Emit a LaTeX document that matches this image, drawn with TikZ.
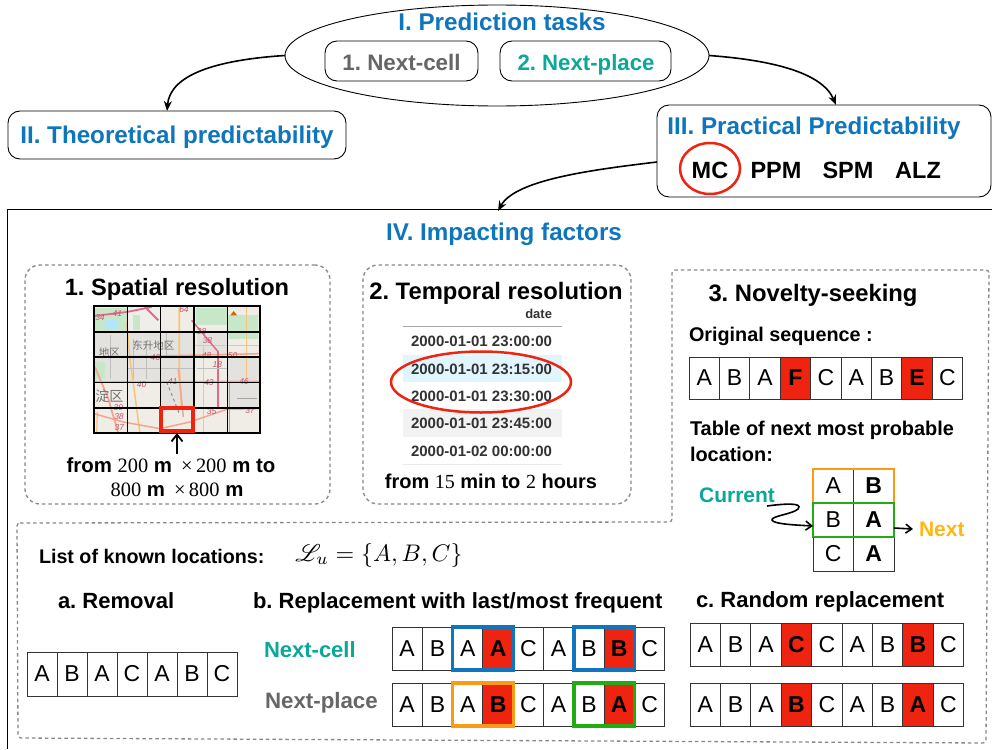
\documentclass[tikz,border=0pt]{standalone}
\usepackage{fontspec}
\usepackage{mathrsfs}
\setmainfont{Liberation Sans}
\newfontfamily\numfont{Liberation Serif}
\newfontfamily\cjkfont{Noto Sans CJK SC}
\usetikzlibrary{arrows.meta,shapes.geometric}
\definecolor{headblue}{HTML}{0F75BC}
\definecolor{tealc}{HTML}{0AA898}
\definecolor{grayc}{HTML}{666666}
\definecolor{redc}{HTML}{EE2410}
\definecolor{orangec}{HTML}{FB9A14}
\definecolor{greenc}{HTML}{22AC14}
\definecolor{yellowc}{HTML}{FDB813}
\definecolor{hlblue}{HTML}{0F75BC}
\definecolor{dashc}{HTML}{888888}
\definecolor{mapbg}{HTML}{F0EDE6}
\definecolor{mapsalmon}{HTML}{F3A590}
\definecolor{mappink}{HTML}{E4688C}
\definecolor{maporange}{HTML}{F6C57A}
\definecolor{mapgreen}{HTML}{C6E8C8}
\definecolor{mapgray}{HTML}{E4E2DE}
\definecolor{maptext}{HTML}{C9546E}
\newcommand{\fsb}[1]{\fontsize{#1}{#1}\selectfont\bfseries\frenchspacing}
\newcommand{\fsr}[1]{\fontsize{#1}{#1}\selectfont}
\newcommand{\cellrow}[6]{%
  \foreach \c/\k [count=\i] in {#6} {
    \node[style/.expanded=\k, minimum width=#4pt, minimum height=#5pt] (#1-\i) at ({#2+(\i-0.5)*#4},{#3+#5/2}) {\c};
  }%
}
\tikzset{
  lab/.style={inner sep=0pt, outer sep=0pt, anchor=mid, yshift=-5.5pt},
  labw/.style={inner sep=0pt, outer sep=0pt, anchor=mid west, yshift=-5.5pt},
  roundbox/.style={draw=black, line width=0.9pt, rounded corners=12pt, inner sep=0pt, outer sep=0pt},
  dashbox/.style={draw=dashc, line width=1.3pt, dash pattern=on 3.5pt off 3pt},
  basecell/.style={draw=black!80, line width=1pt, inner sep=0pt, outer sep=0pt, fill=white, font=\fsr{23}},
  seqcell/.style={basecell},
  boldcell/.style={basecell, font=\fsb{23}},
  redcell/.style={basecell, fill=redc, font=\fsb{23}},
  hl/.style={line width=3.4pt, line join=miter},
  flow/.style={line width=1.6pt, -{Stealth[length=10pt,width=8pt]}},
  barb/.style={line width=1.8pt, -{Straight Barb[length=7pt,width=11pt]}},
  smallbarb/.style={line width=1.6pt, -{Straight Barb[length=6pt,width=9pt]}},
  redring/.style={draw=redc, line width=2.5pt, inner sep=0pt, outer sep=0pt, ellipse},
  daterow/.style={inner sep=0pt, outer sep=0pt, anchor=mid east, yshift=-3pt, text=black!80, font=\fsb{15}},
  mapnum/.style={inner sep=0pt, text=maptext, font=\fontsize{8.5}{9}\selectfont\itshape},
  mapcjk/.style={inner sep=0pt, text=black!55, font=\cjkfont\fontsize{10.5}{12}\selectfont},
}
\begin{document}
\begin{tikzpicture}[x=1pt,y=-1pt]
\useasboundingbox[fill=white] (0,0) rectangle (992,749);

% top ellipse
\node[draw=black, line width=0.9pt, ellipse, minimum width=424pt, minimum height=101pt, inner sep=0pt, outer sep=0pt] (tasks) at (497,55.5) {};
\node[lab, text=headblue, font=\fsb{24.2}] (taskstitle) at (502,22) {I. Prediction tasks};
\node[roundbox, minimum width=153pt, minimum height=40pt] (cellbox) at (401.5,61) {};
\node[roundbox, minimum width=171pt, minimum height=40pt] (placebox) at (585.5,61) {};
\node[lab, text=grayc, font=\fsb{22.4}] (celltxt) at (401.5,62) {1. Next-cell};
\node[lab, text=tealc, font=\fsb{22.2}] (placetxt) at (586,62) {2. Next-place};

% II
\node[roundbox, minimum width=338pt, minimum height=48pt] (theory) at (177,135) {};
\node[lab, text=headblue, font=\fsb{24.2}] (theorytxt) at (177,135) {II. Theoretical predictability};

% III
\node[roundbox, minimum width=334pt, minimum height=92pt] (practical) at (824,151) {};
\node[lab, text=headblue, font=\fsb{24.2}] (practxt) at (814,126) {III. Practical Predictability};
\node[lab, font=\fsb{23.5}] (mc) at (710,170) {MC};
\node[redring, minimum width=60pt, minimum height=51pt] (mcring) at (710,168.5) {};
\node[lab, font=\fsb{23.5}] (ppm) at (776,170) {PPM};
\node[lab, font=\fsb{23.5}] (spm) at (848,170) {SPM};
\node[lab, font=\fsb{23.5}] (alz) at (918,170) {ALZ};

% IV frame
\coordinate (frameNE) at (992,209);
\coordinate (frameNW) at (7,209);
\coordinate (frameSW) at (7,749);
\coordinate (frametop) at (498,211);
\draw[line width=1pt] (frameNE) -- (frameNW) -- (frameSW);
\node[lab, text=headblue, font=\fsb{24.2}] (factors) at (504,232) {IV. Impacting factors};

% connectors
\draw[flow] (tasks.west) .. controls (215,60) and (170,75) .. ([xshift=-10pt]theory.north);
\draw[flow] (tasks.east) .. controls (770,60) and (822,72) .. ([xshift=12pt]practical.north);
\draw[flow] ([yshift=-11pt]practical.west) .. controls (590,170) and (515,180) .. (frametop);

% box 1
\node[dashbox, rounded corners=15pt, minimum width=305pt, minimum height=239pt, inner sep=0pt] (spatial) at (177.5,384.5) {};
\node[lab, font=\fsb{23.6}] (spatialtitle) at (177,287) {1. Spatial resolution};

% map, in zoom units
\begin{scope}[shift={(90,302)}, x=0.3333pt, y=-0.3333pt]
  \clip (12,15) rectangle (510,395);
  \fill[mapbg] (12,15) rectangle (510,395);
  \fill[mapgray] (115,90) rectangle (310,240);
  \fill[mapgray] (15,90) rectangle (110,240);
  \fill[mapgray] (320,90) rectangle (410,165);
  \fill[mapgray] (212,240) rectangle (310,320);
  \fill[mapgray] (410,165) rectangle (510,318);
  \fill[white!40!mapgray] (115,15) rectangle (210,85);
  \fill[mapgreen] (15,18) rectangle (110,88);
  \fill[mapgreen] (318,18) rectangle (410,70);
  \fill[mapgreen] (415,40) rectangle (505,110);
  \fill[mapgreen] (15,180) rectangle (45,232);
  \fill[mapgreen] (130,40) rectangle (150,85);
  \fill[cyan!30] (45,55) rectangle (85,85);
  \fill[orange!80!black] (431,27) -- (441,40) -- (421,40) -- cycle;
  \draw[maporange, line width=1.8pt] (268,15) -- (268,200) -- (275,320);
  \draw[maporange, line width=1.5pt] (110,60) -- (120,170) -- (150,395);
  \draw[maporange, line width=1.5pt] (315,130) -- (510,130);
  \draw[maporange, line width=1.5pt] (340,130) -- (340,395);
  \draw[maporange, line width=1.5pt] (470,15) -- (470,240);
  \draw[maporange, line width=1.2pt] (20,395) -- (22,330);
  \draw[mapsalmon, line width=1.5pt] (15,240) -- (510,238);
  \draw[mapsalmon, line width=1.5pt] (12,165) -- (200,162) -- (510,155);
  \draw[mapsalmon, line width=1.8pt] (15,195) -- (55,290) -- (85,395);
  \draw[mapsalmon, line width=1.5pt] (12,335) -- (100,360) -- (210,380) -- (300,360) -- (410,322) -- (510,320);
  \draw[mapsalmon, line width=1.5pt] (265,200) -- (280,345);
  \draw[mappink, line width=1.8pt] (12,42) -- (110,30) -- (185,15);
  \draw[mappink, line width=1.8pt] (165,15) -- (205,55);
  \draw[mappink, line width=1.8pt] (385,150) -- (385,320);
  \draw[mappink, line width=1.5pt] (305,55) -- (385,150);
  \draw[black!45, line width=1pt, dashed] (230,240) -- (270,340);
  \draw[black!35, line width=1pt] (420,240) -- (420,395) (440,290) -- (500,290);
  \draw[black!25, line width=0.8pt] (130,110) -- (130,230) (170,120) -- (170,230) (230,90) -- (230,160) (60,100) -- (60,230) (115,200) -- (310,200) (320,200) -- (410,200);
  \node[mapcjk] (mapa) at (190,130) {东升地区};
  \node[mapcjk] (mapb) at (58,150) {地区};
  \node[mapcjk, font=\cjkfont\fontsize{14}{15}\selectfont] (mapc) at (58,283) {淀区};
  \node[mapnum] (m1) at (82,35) {41};
  \node[mapnum] (m2) at (30,48) {34};
  \node[mapnum] (m3) at (282,22) {64};
  \node[mapnum] (m4) at (335,90) {38};
  \node[mapnum] (m5) at (352,116) {38};
  \node[mapnum] (m6) at (382,188) {18};
  \node[mapnum] (m7) at (196,168) {46};
  \node[mapnum] (m8) at (350,160) {48};
  \node[mapnum] (m9) at (428,160) {50};
  \node[mapnum] (m10) at (155,247) {40};
  \node[mapnum] (m11) at (248,240) {41};
  \node[mapnum] (m12) at (357,243) {43};
  \node[mapnum] (m13) at (462,240) {46};
  \node[mapnum] (m14) at (85,316) {39};
  \node[mapnum] (m15) at (87,345) {38};
  \node[mapnum] (m16) at (88,378) {37};
  \node[mapnum] (m17) at (365,328) {35};
  \node[mapnum] (m18) at (480,325) {37};
  \foreach \gx in {113,212,312,412} \draw[line width=1.3pt] (\gx,15) -- (\gx,395);
  \foreach \gy in {90,165,242,318} \draw[line width=1.3pt] (12,\gy) -- (510,\gy);
\end{scope}
\node[draw=black, line width=1.6pt, minimum width=166pt, minimum height=127pt, inner sep=0pt, outer sep=0pt] (map) at (177,369.5) {};
\node[draw=redc, line width=4pt, minimum width=32pt, minimum height=23pt, inner sep=0pt, outer sep=0pt] (cellmark) at (177,419.5) {};
\coordinate (arrowstart) at (177,454);
\draw[barb] (arrowstart) -- ([yshift=-2pt]cellmark.south);
\node[lab, font=\fsb{20.4}] (spatialfrom) at (171,464) {from {\numfont\mdseries 200} m\;\,{\numfont\mdseries ×\,200} m to};
\node[lab, font=\fsb{20.4}] (spatialto) at (177,488) {{\numfont\mdseries 800} m\;\,{\numfont\mdseries ×\,800} m};

% box 2
\node[dashbox, rounded corners=15pt, minimum width=268pt, minimum height=239pt, inner sep=0pt] (temporal) at (497,384.5) {};
\node[lab, font=\fsb{23.8}] (temporaltitle) at (496,291) {2. Temporal resolution};
\node[inner sep=0pt, outer sep=0pt, fill=cyan!12!white, minimum width=159pt, minimum height=27pt] (bandblue) at (482.5,368.5) {};
\node[inner sep=0pt, outer sep=0pt, fill=black!5, minimum width=159pt, minimum height=28pt] (bandgray) at (482.5,423) {};
\node[daterow, font=\fsb{13}] (datehead) at (552,313) {date};
\coordinate (ruleL) at (403,326);
\coordinate (ruleR) at (562,326);
\coordinate (ruleBL) at (403,464);
\coordinate (ruleBR) at (562,464);
\draw[black!35, line width=1pt] (ruleL) -- (ruleR);
\draw[black!8, line width=1pt] (ruleBL) -- (ruleBR);
\node[daterow] (d1) at (552,341) {2000-01-01 23:00:00};
\node[daterow] (d2) at (552,369) {2000-01-01 23:15:00};
\node[daterow] (d3) at (552,396) {2000-01-01 23:30:00};
\node[daterow] (d4) at (552,423) {2000-01-01 23:45:00};
\node[daterow] (d5) at (552,451) {2000-01-02 00:00:00};
\node[redring, minimum width=180pt, minimum height=61pt] (datering) at (481,382) {};
\node[lab, font=\fsb{20}] (temporalfrom) at (491,480) {from {\numfont\mdseries 15} min to {\numfont\mdseries 2} hours};

% novelty + lower outline
\coordinate (o1) at (17,523);
\coordinate (o2) at (672,522);
\coordinate (o3) at (672,270);
\coordinate (o4) at (989,270);
\coordinate (o5) at (986,743);
\coordinate (o6) at (18,738);
\draw[dashbox, rounded corners=3pt] (o1) -- (o2) -- (o3) -- (o4) -- (o5) -- (o6) -- cycle;

\node[lab, font=\fsb{23.8}] (noveltytitle) at (813,293) {3. Novelty-seeking};
\node[labw, font=\fsb{19.8}] (origlabel) at (689,333) {Original sequence :};
\cellrow{orig}{689}{357}{30.4}{42}{A/seqcell,B/seqcell,A/seqcell,F/redcell,C/seqcell,A/seqcell,B/seqcell,E/redcell,C/seqcell}
\node[labw, font=\fsb{19.9}] (tablelabel) at (690,427) {Table of next most probable};
\node[labw, font=\fsb{19.9}] (tablelabelb) at (690,453) {location:};
\cellrow{ta}{813}{469}{40.5}{34}{A/seqcell,B/boldcell}
\cellrow{tb}{813}{503}{40.5}{34}{B/seqcell,A/boldcell}
\cellrow{tc}{813}{537}{40.5}{34}{C/seqcell,A/boldcell}
\draw[orangec, hl, line width=2.5pt] (ta-1.north west) rectangle (ta-2.south east);
\draw[greenc, hl, line width=2.5pt] (tb-1.north west) rectangle (tb-2.south east);
\node[lab, text=tealc, font=\fsb{21}] (currenttxt) at (737,494) {Current};
\node[labw, text=yellowc, font=\fsb{21}] (nexttxt) at (919,528) {Next};
\coordinate (squigstart) at (767,506);
\draw[smallbarb] (squigstart) .. controls (782,504) and (804,502) .. (798,509) .. controls (793,514) and (771,516) .. (772,520) .. controls (773,524) and (795,525) .. ([yshift=-6pt]tb-1.west);
\draw[smallbarb] ([yshift=-8pt]tb-2.east) -- ([xshift=-6pt]nexttxt.west);

% lower
\node[labw, font=\fsb{19.7}] (knownlabel) at (39,555) {List of known locations:};
\node[inner sep=0pt, anchor=mid west, scale=2.4] (knownset) at (295,555) {$\mathscr{L}_u=\{A,B,C\}$};

\node[labw, font=\fsb{22}] (removaltitle) at (58,600) {a. Removal};
\cellrow{rem}{27}{652}{30}{44}{A/seqcell,B/seqcell,A/seqcell,C/seqcell,A/seqcell,B/seqcell,C/seqcell}

\node[labw, font=\fsb{22}] (replacetitle) at (253,600) {b. Replacement with last/most frequent};
\node[labw, text=tealc, font=\fsb{22}] (nextcelllabel) at (264,649) {Next-cell};
\node[labw, text=grayc, font=\fsb{22.3}] (nextplacelabel) at (265,700) {Next-place};
\cellrow{bA}{392}{627}{30.3}{43}{A/seqcell,B/seqcell,A/seqcell,A/redcell,C/seqcell,A/seqcell,B/seqcell,B/redcell,C/seqcell}
\cellrow{bB}{392}{683}{30.3}{43}{A/seqcell,B/seqcell,A/seqcell,B/redcell,C/seqcell,A/seqcell,B/seqcell,A/redcell,C/seqcell}
\draw[hlblue, hl] (bA-3.north west) rectangle (bA-4.south east);
\draw[hlblue, hl] (bA-7.north west) rectangle (bA-8.south east);
\draw[orangec, hl] (bB-3.north west) rectangle (bB-4.south east);
\draw[greenc, hl] (bB-7.north west) rectangle (bB-8.south east);

\node[labw, font=\fsb{22}] (randomtitle) at (696,599) {c. Random replacement};
\cellrow{cA}{690}{623}{30.4}{43}{A/seqcell,B/seqcell,A/seqcell,C/redcell,C/seqcell,A/seqcell,B/seqcell,B/redcell,C/seqcell}
\cellrow{cB}{690}{683}{30.4}{43}{A/seqcell,B/seqcell,A/seqcell,B/redcell,C/seqcell,A/seqcell,B/seqcell,A/redcell,C/seqcell}
\end{tikzpicture}
\end{document}
